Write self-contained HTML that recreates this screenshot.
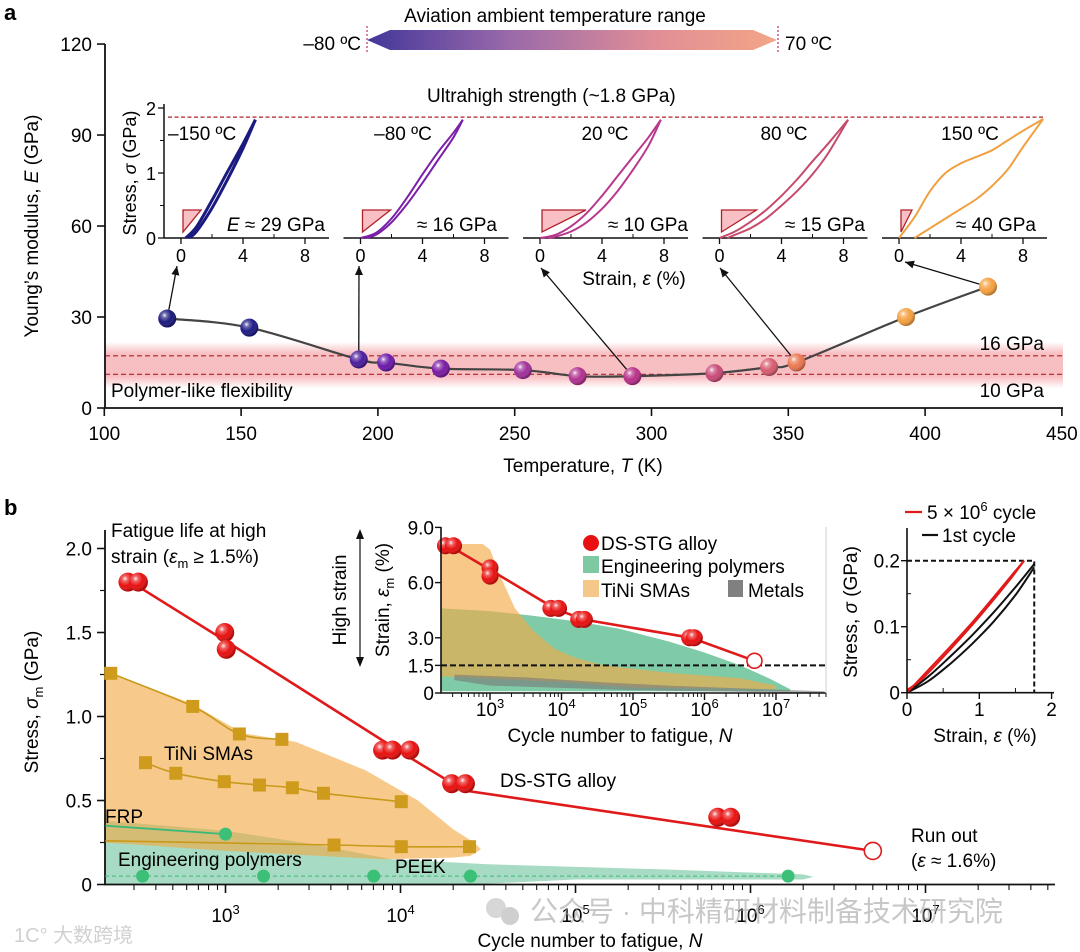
<!DOCTYPE html>
<html><head><meta charset="utf-8"><style>
html,body{margin:0;padding:0;background:#fff}
svg{display:block;font-family:"Liberation Sans","Noto Sans CJK SC",sans-serif}
</style></head><body>
<svg id="fig" width="1080" height="952" viewBox="0 0 1080 952" xmlns="http://www.w3.org/2000/svg">
<defs>
<radialGradient id="shine" cx="0.35" cy="0.32" r="0.65">
<stop offset="0" stop-color="#fff" stop-opacity="0.95"/>
<stop offset="0.22" stop-color="#fff" stop-opacity="0.35"/>
<stop offset="0.6" stop-color="#fff" stop-opacity="0"/>
<stop offset="1" stop-color="#000" stop-opacity="0.25"/>
</radialGradient>
<linearGradient id="tempbar" x1="0" x2="1" y1="0" y2="0">
<stop offset="0" stop-color="#43379a"/>
<stop offset="0.35" stop-color="#9a6aaa"/>
<stop offset="0.7" stop-color="#e08e96"/>
<stop offset="1" stop-color="#f3a586"/>
</linearGradient>
<linearGradient id="band" x1="0" x2="0" y1="0" y2="1">
<stop offset="0" stop-color="#f7b8bc" stop-opacity="0"/>
<stop offset="0.25" stop-color="#f7b8bc" stop-opacity="0.9"/>
<stop offset="0.75" stop-color="#f7b8bc" stop-opacity="0.9"/>
<stop offset="1" stop-color="#f7b8bc" stop-opacity="0"/>
</linearGradient>
</defs>

<text x="4" y="20" font-size="22" font-weight="bold">a</text>
<text x="4" y="515" font-size="22" font-weight="bold">b</text>

<text x="555" y="22" font-size="19" text-anchor="middle">Aviation ambient temperature range</text>
<polygon points="367,40 390,30 753,30 777,40 753,50 390,50" fill="url(#tempbar)"/>
<line x1="367" y1="26" x2="367" y2="54" stroke="#c0306a" stroke-width="1.2" stroke-dasharray="2,2"/>
<line x1="778" y1="26" x2="778" y2="54" stroke="#c0306a" stroke-width="1.2" stroke-dasharray="2,2"/>
<text x="361" y="50" font-size="19" text-anchor="end">–80 ºC</text>
<text x="785" y="50" font-size="19">70 ºC</text>

<g id="panelA"></g>
<g id="panelB"></g>

<g opacity="0.55">
<circle cx="496" cy="908" r="10" fill="#b8b8b8"/><circle cx="510" cy="916" r="9" fill="#a8a8a8"/>
<text x="530" y="921" font-size="28" fill="#9a9a9a">公众号 · 中科精研材料制备技术研究院</text>
<text x="14" y="942" font-size="20" fill="#aaa">1C° 大数跨境</text>
</g>
</svg>
<script>
const NS='http://www.w3.org/2000/svg';
/* ---------- panel a data ---------- */
const tempK=[123,153,193,203,223,253,273,293,323,343,353,393,423];
const modulusE=[29.5,26.5,16,15,13,12.5,10.5,10.5,11.5,13.5,15,30,40];
const orbColors=['#1c1a7c','#1e1b86','#4a1c9c','#6a1aa8','#7a1aa2','#a0309c','#b03290','#b83088','#c84a78','#d65c70','#ea7850','#f5a040','#f5a040'];
const aXTicks=[100,150,200,250,300,350,400,450];
const aYTicks=[0,30,60,90,120];
const bandHigh=17.2, bandLow=11.1;
const insetLabels=['–150 ºC','–80 ºC','20 ºC','80 ºC','150 ºC'];
const insetModText=['≈ 29 GPa','≈ 16 GPa','≈ 10 GPa','≈ 15 GPa','≈ 40 GPa'];
const insetColors=['#1b1a80','#7b1fa8','#b8388e','#c84a6a','#f0a040'];
const insetLoadStrain=[
 [0.3,1,2,3,4,4.8],
 [0,1,2,3,4,5,6,6.6],
 [0,1,2,3,4,5,6,7,7.8],
 [0,1,2,3,4,5,6,7,8.3],
 [0,1,2,3,4,5,6,7,8,9.3]];
const insetLoadStress=[
 [0,0.17,0.58,1.02,1.45,1.82],
 [0,0.08,0.3,0.62,0.98,1.32,1.62,1.82],
 [0,0.05,0.18,0.38,0.65,0.95,1.25,1.55,1.82],
 [0,0.1,0.25,0.43,0.65,0.9,1.18,1.45,1.82],
 [0,0.32,0.72,1.0,1.15,1.25,1.35,1.5,1.65,1.83]];
const insetUnloadStrain=[
 [4.8,4,3,2,1,0.5],
 [6.6,6,5,4,3,2,1,0.3],
 [7.8,7,6,5,4,3,2,1,0.5],
 [8.3,7,6,5,4,3,2,1,0.5],
 [9.3,8,7,6,5,4,3,2,1]];
const insetUnloadStress=[
 [1.82,1.38,0.9,0.46,0.1,0],
 [1.82,1.55,1.2,0.85,0.52,0.24,0.05,0],
 [1.82,1.42,1.05,0.72,0.45,0.24,0.1,0.02,0],
 [1.82,1.3,0.98,0.72,0.5,0.3,0.15,0.05,0],
 [1.83,1.4,1.05,0.8,0.6,0.45,0.3,0.15,0]];
const triWidths=[18,28,44,35,11];
const insetXTicks=[0,4,8];
const insetYTicks=[0,1,2];
const ultraStrength=1.86;
const arrowFromIdx=[0,2,7,10,12];

/* ---------- panel b data ---------- */
const dsN=[277,318,990,1010,7900,9000,11300,19600,23500,6.5e5,7.7e5];
const dsS=[1.8,1.8,1.5,1.4,0.8,0.8,0.8,0.6,0.6,0.4,0.4];
const dsLineN=[300,1000,10000,23000,5e6];
const dsLineS=[1.79,1.45,0.79,0.56,0.2];
const runoutN=5e6, runoutS=0.2;
const tiniUpperN=[221,650,1200,2100];
const tiniUpperS=[1.257,1.06,0.896,0.864];
const tiniMidN=[349,520,984,1563,2410,3630,10100];
const tiniMidS=[0.725,0.662,0.612,0.592,0.576,0.543,0.493];
const tiniLowN=[206,4170,10100,24800];
const tiniLowS=[0.26,0.235,0.225,0.225];
const frpN=[206,1000];
const frpS=[0.35,0.30];
const peekN=[336,1650,7030,25100,1.64e6];
const peekS=[0.05,0.05,0.05,0.05,0.05];
const orangeLogN=[2.31,2.8,3.1,3.4,3.8,4.1,4.3,4.42,4.46,4.4,4.3,3.9,3.0,2.31];
const orangeS=[1.27,1.08,0.9,0.85,0.68,0.5,0.33,0.25,0.21,0.17,0.16,0.15,0.2,0.25];
const greenLogN=[2.31,3.0,3.5,3.95,4.5,5.5,6.3,6.36,6.3,5.0,4.4,2.31];
const greenS=[0.38,0.32,0.24,0.15,0.12,0.09,0.06,0.045,0.03,0.03,0,0];
const bYTicks=[0,0.5,1.0,1.5,2.0];
const bYTickLabels=['0','0.5','1.0','1.5','2.0'];
const bXDecades=[3,4,5,6,7];

const inDsN=[238,309,1000,1000,7100,9100,17400,20900,6.2e5,7.2e5];
const inDsE=[8.0,8.0,6.8,6.35,4.6,4.6,4.0,4.0,3.0,3.0];
const inLineN=[270,1000,8000,20000,6.5e5,5e6];
const inLineE=[8.0,6.7,4.6,4.0,3.0,1.75];
const inRunoutN=5e6, inRunoutE=1.75;
const inOrangeLogN=[2.31,2.9,3.0,3.15,3.35,3.6,3.9,4.2,4.6,5.5,6.5,7.0,7.0,5.0,4.0,2.31];
const inOrangeE=[8.1,8.1,7.8,6.3,4.6,3.4,2.4,1.9,1.5,1.1,0.8,0.4,0.2,0.3,0.6,0.9];
const inGreenLogN=[2.31,3.0,3.6,4.2,4.8,5.5,6.0,6.5,6.9,7.2,7.2,2.31];
const inGreenE=[4.6,4.45,4.2,3.9,3.5,2.8,2.2,1.5,0.8,0.2,0.1,0.1];
const inGrayLogN=[2.5,3.5,4.5,5.5,6.5,7.68,7.68,5.0,3.0,2.5];
const inGrayE=[1.0,0.85,0.6,0.4,0.25,0.1,0.0,0.15,0.4,0.7];
const inYTicks=[0,1.5,3.0,6.0,9.0];
const inYLabels=['0','1.5','3.0','6.0','9.0'];
const inThreshold=1.5;

const rRedLoadX=[0,0.3,0.6,0.9,1.2,1.45,1.62];
const rRedLoadY=[0,0.035,0.07,0.106,0.145,0.178,0.2];
const rRedUnX=[1.62,1.4,1.1,0.8,0.5,0.2,0];
const rRedUnY=[0.2,0.168,0.128,0.09,0.054,0.02,0.004];
const rBlkLoadX=[0,0.3,0.6,0.9,1.2,1.5,1.76];
const rBlkLoadY=[0,0.025,0.055,0.087,0.122,0.16,0.195];
const rBlkUnX=[1.76,1.5,1.2,0.9,0.6,0.3,0];
const rBlkUnY=[0.19,0.148,0.108,0.074,0.044,0.018,0];
const rPeakStrain=1.76, rPeakStress=0.2;
const rXTicks=[0,1,2];
const rYTicks=[0,0.1,0.2];
const rYLabels=['0','0.1','0.2'];

/* ---------- helpers ---------- */
function mk(tag,parent){const e=document.createElementNS(NS,tag);parent.appendChild(e);return e;}
function set(e,o){for(const k in o)e.setAttribute(k,o[k]);return e;}
function smooth(pts){
  if(pts.length<3){return 'M'+pts.map(p=>p[0].toFixed(1)+','+p[1].toFixed(1)).join('L');}
  let d='M'+pts[0][0].toFixed(1)+','+pts[0][1].toFixed(1);
  for(let i=0;i<pts.length-1;i++){
    const p0=pts[Math.max(0,i-1)],p1=pts[i],p2=pts[i+1],p3=pts[Math.min(pts.length-1,i+2)];
    const c1=[p1[0]+(p2[0]-p0[0])/6,p1[1]+(p2[1]-p0[1])/6];
    const c2=[p2[0]-(p3[0]-p1[0])/6,p2[1]-(p3[1]-p1[1])/6];
    d+='C'+c1[0].toFixed(1)+','+c1[1].toFixed(1)+' '+c2[0].toFixed(1)+','+c2[1].toFixed(1)+' '+p2[0].toFixed(1)+','+p2[1].toFixed(1);
  }
  return d;
}
function txt(parent,x,y,s,size,anchor){const t=mk('text',parent);set(t,{x:x,y:y,'font-size':size,'text-anchor':anchor||'start'});t.textContent=s;return t;}
function span(t,s,o){const e=mk('tspan',t);if(o)set(e,o);e.textContent=s;return e;}
function sphere(parent,cx,cy,r,col){
  const g=mk('g',parent);
  const c=mk('circle',g);set(c,{cx:cx,cy:cy,r:r,fill:col});
  const h=mk('circle',g);set(h,{cx:cx,cy:cy,r:r,fill:'url(#shine)'});
  return g;
}
function arrow(parent,x1,y1,x2,y2){
  const g=mk('g',parent);
  const l=mk('line',g);set(l,{x1:x1,y1:y1,x2:x2,y2:y2,stroke:'#111','stroke-width':1.3});
  const a=Math.atan2(y2-y1,x2-x1),L=9,W=4;
  const bx=x2-L*Math.cos(a),by=y2-L*Math.sin(a);
  const p=mk('polygon',g);set(p,{points:`${x2},${y2} ${bx+W*Math.sin(a)},${by-W*Math.cos(a)} ${bx-W*Math.sin(a)},${by+W*Math.cos(a)}`,fill:'#111'});
  return g;
}
function sup(t,base,exp){t.textContent='';span(t,base);span(t,exp,{dy:-8,'font-size':13});}

/* ---------- panel a ---------- */
const A=document.getElementById('panelA');
const ax=t=>104.3+(t-100)*2.736;
const ay=e=>408-e*3.033;

const band=mk('rect',A);set(band,{x:105,y:ay(bandHigh)-14,width:958,height:(ay(bandLow)-ay(bandHigh))+28,fill:'url(#band)'});


[bandHigh,bandLow].forEach(v=>{
  const l=mk('line',A);set(l,{x1:105,x2:1063,y1:ay(v),y2:ay(v),stroke:'#b0202a','stroke-width':1.2,'stroke-dasharray':'5,3'});
  
  
});
let t;
t=txt(A,111,397,'Polymer-like flexibility',19);


t=txt(A,1044,350,'16 GPa',19,'end');


t=txt(A,1044,397,'10 GPa',19,'end');



const axA=mk('path',A);set(axA,{d:`M105,44V408H1063`,fill:'none',stroke:'#111','stroke-width':1.8});


aXTicks.forEach(v=>{
  const l=mk('line',A);set(l,{x1:ax(v),x2:ax(v),y1:408,y2:416,stroke:'#111','stroke-width':1.6});
  
  
  const tt=txt(A,ax(v),440,String(v),19,'middle');
  
  
});
aYTicks.forEach(v=>{
  const l=mk('line',A);set(l,{x1:97,x2:105,y1:ay(v),y2:ay(v),stroke:'#111','stroke-width':1.6});
  
  
  const tt=txt(A,92,ay(v)+7,String(v),19,'end');
  
  
});
t=txt(A,583,472,'',19,'middle');
span(t,'Temperature, ');span(t,'T',{'font-style':'italic'});span(t,' (K)');


t=txt(A,0,0,'',19,'middle');
span(t,'Young’s modulus, ');span(t,'E',{'font-style':'italic'});span(t,' (GPa)');
set(t,{transform:'translate(38,226) rotate(-90)'});



const curve=mk('path',A);set(curve,{d:smooth(tempK.map((k,i)=>[ax(k),ay(modulusE[i])])),fill:'none',stroke:'#444','stroke-width':2.2});



const ix=(i,s)=>181+179.5*i+s*15.5;
const iy=s=>238-s*65;
const ul=mk('line',A);set(ul,{x1:168,x2:1044,y1:iy(ultraStrength),y2:iy(ultraStrength),stroke:'#b0202a','stroke-width':1.3,'stroke-dasharray':'4,2.5'});


t=txt(A,427,102,'Ultrahigh strength (~1.8 GPa)',19);



const labelX=[168,403,605,784,970];
const modX=[325,497,688,865,1036];
for(let i=0;i<5;i++){
  const g=mk('g',A);
  
  
  const xa=mk('line',g);set(xa,{x1:ix(i,0)-17,x2:ix(i,0)+148,y1:238,y2:238,stroke:'#111','stroke-width':1.5});
  
  
  insetXTicks.forEach(v=>{
    const l=mk('line',g);set(l,{x1:ix(i,v),x2:ix(i,v),y1:238,y2:244,stroke:'#111','stroke-width':1.3});
    
    
    const tt=txt(g,ix(i,v),262,String(v),18,'middle');
    
    
  });
  [2,6].forEach(v=>{const l=mk('line',g);set(l,{x1:ix(i,v),x2:ix(i,v),y1:238,y2:234,stroke:'#111','stroke-width':1});});
  const tri=mk('polygon',g);
  const tl=ix(i,0)+2;
  set(tri,{points:`${tl},210 ${tl+triWidths[i]},210 ${tl},232`,fill:'#f8c0c4',stroke:'#b0202a','stroke-width':1.3});
  
  
  const lp=mk('path',g);set(lp,{d:smooth(insetLoadStrain[i].map((s,j)=>[ix(i,s),iy(insetLoadStress[i][j])])),fill:'none',stroke:insetColors[i],'stroke-width':i===0?3:2});
  
  
  const up=mk('path',g);set(up,{d:smooth(insetUnloadStrain[i].map((s,j)=>[ix(i,s),iy(insetUnloadStress[i][j])])),fill:'none',stroke:insetColors[i],'stroke-width':i===0?3:2});
  
  
  const tl2=txt(g,labelX[i],140,insetLabels[i],19,i===0?'start':'middle');
  
  
  const mt=txt(g,modX[i],231,'',19,'end');
  if(i===0){span(mt,'E',{'font-style':'italic'});span(mt,' '+insetModText[i]);}else{mt.textContent=insetModText[i];}
  
  
}
const iya=mk('line',A);set(iya,{x1:164,x2:164,y1:104,y2:238,stroke:'#111','stroke-width':1.5});


insetYTicks.forEach(v=>{
  const l=mk('line',A);set(l,{x1:158,x2:164,y1:iy(v),y2:iy(v),stroke:'#111','stroke-width':1.3});
  
  
  const tt=txt(A,156,iy(v)+7,String(v),18,'end');
  
  
});
[0.5,1.5].forEach(v=>{const l=mk('line',A);set(l,{x1:160,x2:164,y1:iy(v),y2:iy(v),stroke:'#111','stroke-width':1});});
t=txt(A,0,0,'',18,'middle');
span(t,'Stress, ');span(t,'σ',{'font-style':'italic'});span(t,' (GPa)');
set(t,{transform:'translate(136,173) rotate(-90)'});


t=txt(A,634,285,'',19,'middle');
span(t,'Strain, ');span(t,'ε',{'font-style':'italic'});span(t,' (%)');



const arrowTips=[[177,266],[359,266],[541,268],[720,268],[905,262]];
arrowFromIdx.forEach((idx,i)=>{
  const px=ax(tempK[idx]),py=ay(modulusE[idx]);
  const dx=arrowTips[i][0]-px,dy=arrowTips[i][1]-py,d=Math.hypot(dx,dy);
  const a=arrow(A,px+dx/d*9,py+dy/d*9,arrowTips[i][0],arrowTips[i][1]);
  
  
});
tempK.forEach((k,i)=>{
  const s=sphere(A,ax(k),ay(modulusE[i]),9,orbColors[i]);
  
  
});

/* ---------- panel b ---------- */
const B=document.getElementById('panelB');
const LMIN=2.31,LMAX=7.72;
const bxl=l=>225.5+(l-3)*175;
const bx=n=>bxl(Math.log10(n));
const by=s=>884.5-s*168;

function poly(parent,xs,ys,fx,fy,fill){
  const p=mk('polygon',parent);
  set(p,{points:xs.map((x,i)=>fx(x).toFixed(1)+','+fy(ys[i]).toFixed(1)).join(' '),fill:fill});
  return p;
}
let p=poly(B,greenLogN,greenS,bxl,by,'rgba(95,190,145,0.55)');


p=poly(B,orangeLogN,orangeS,bxl,by,'rgba(242,170,70,0.62)');



const axB=mk('path',B);set(axB,{d:`M105,530V884.5H1055`,fill:'none',stroke:'#111','stroke-width':1.8});


bYTicks.forEach((v,i)=>{
  const l=mk('line',B);set(l,{x1:97,x2:105,y1:by(v),y2:by(v),stroke:'#111','stroke-width':1.6});
  
  
  const tt=txt(B,92,by(v)+7,bYTickLabels[i],19,'end');
  
  
  if(v<2){const m=mk('line',B);set(m,{x1:100,x2:105,y1:by(v+0.25),y2:by(v+0.25),stroke:'#111','stroke-width':1.2});}
});
for(let d=2;d<=7;d++){for(let k=1;k<=9;k++){
  const l=Math.log10(k*Math.pow(10,d));
  if(l<LMIN||l>LMAX)continue;
  const m=mk('line',B);set(m,{x1:bxl(l),x2:bxl(l),y1:884.5,y2:k===1?893:890,stroke:'#111','stroke-width':k===1?1.6:1.1});
}}
bXDecades.forEach(d=>{
  const tt=txt(B,bxl(d),922,'',19,'middle');sup(tt,'10',String(d));
  
  
});
t=txt(B,590,947,'',19,'middle');
span(t,'Cycle number to fatigue, ');span(t,'N',{'font-style':'italic'});


t=txt(B,0,0,'',19,'middle');
span(t,'Stress, ');span(t,'σ',{'font-style':'italic'});span(t,'m',{'font-size':13,dy:5});span(t,' (GPa)',{dy:-5});
set(t,{transform:'translate(38,702) rotate(-90)'});



[[tiniUpperN,tiniUpperS,'tini-upper'],[tiniMidN,tiniMidS,'tini-middle'],[tiniLowN,tiniLowS,'tini-lower']].forEach((sr,si)=>{
  const g=mk('g',B);
  
  
  const pth=mk('path',g);set(pth,{d:smooth(sr[0].map((n,i)=>[bx(n),by(sr[1][i])])),fill:'none',stroke:'#c99a1a','stroke-width':1.6});
  sr[0].forEach((n,i)=>{
    if(si===2&&i===0)return;
    const r=mk('rect',g);set(r,{x:bx(n)-6.5,y:by(sr[1][i])-6.5,width:13,height:13,fill:'#cf9b1c'});
    
    
  });
});
const frp=mk('line',B);set(frp,{x1:bx(frpN[0]),y1:by(frpS[0]),x2:bx(frpN[1]),y2:by(frpS[1]),stroke:'#3cb878','stroke-width':1.8});


const frpPt=mk('circle',B);set(frpPt,{cx:bx(frpN[1]),cy:by(frpS[1]),r:6.5,fill:'#3cc078'});


const peekLine=mk('line',B);set(peekLine,{x1:105,y1:by(peekS[0]),x2:bx(peekN[4]),y2:by(peekS[0]),stroke:'#3cb878','stroke-width':1,'stroke-dasharray':'4,3'});


peekN.forEach((n,i)=>{
  const c=mk('circle',B);set(c,{cx:bx(n),cy:by(peekS[i]),r:6.5,fill:'#3cc078'});
  
  
});
const dsl=mk('polyline',B);set(dsl,{points:dsLineN.map((n,i)=>bx(n).toFixed(1)+','+by(dsLineS[i]).toFixed(1)).join(' '),fill:'none',stroke:'#e01a1a','stroke-width':2.6});


dsN.forEach((n,i)=>{
  const s=sphere(B,bx(n),by(dsS[i]),9.5,'#e81010');
  
  
});
const ro=mk('circle',B);set(ro,{cx:bx(runoutN),cy:by(runoutS),r:8.5,fill:'#fff',stroke:'#e01a1a','stroke-width':1.6});



t=txt(B,111,537,'Fatigue life at high',19);


t=txt(B,111,563,'',19);
span(t,'strain (');span(t,'ε',{'font-style':'italic'});span(t,'m',{'font-size':13,dy:5});span(t,' ≥ 1.5%)',{dy:-5});


[['TiNi SMAs',164,760,'tini-label'],['FRP',105,823,'frp-label'],['Engineering polymers',118,866,'polymers-label'],['PEEK',395,873,'peek-label'],['DS-STG alloy',500,787,'ds-stg-label'],['Run out',911,842,'run-out-label']].forEach(a=>{
  const tt=txt(B,a[1],a[2],a[0],19);
  
  
});
t=txt(B,911,867,'',19);
span(t,'(');span(t,'ε',{'font-style':'italic'});span(t,' ≈ 1.6%)');



/* inset b */
const I=mk('g',B);


const ixl=l=>490+(l-3)*71.5;
const ixn=n=>ixl(Math.log10(n));
const iyb=e=>693-e*18.4;
const bg=mk('rect',I);set(bg,{x:441,y:520,width:385,height:173,fill:'#fff'});
p=poly(I,inGreenLogN,inGreenE,ixl,iyb,'rgba(95,190,145,0.8)');


p=poly(I,inOrangeLogN,inOrangeE,ixl,iyb,'rgba(242,170,70,0.65)');


p=poly(I,inGrayLogN,inGrayE,ixl,iyb,'rgba(120,120,120,0.6)');


const thr=mk('line',I);set(thr,{x1:441,x2:826,y1:iyb(inThreshold),y2:iyb(inThreshold),stroke:'#111','stroke-width':2,'stroke-dasharray':'6,3'});


const il=mk('polyline',I);set(il,{points:inLineN.map((n,i)=>ixn(n).toFixed(1)+','+iyb(inLineE[i]).toFixed(1)).join(' '),fill:'none',stroke:'#e01a1a','stroke-width':2.6});


inDsN.forEach((n,i)=>{
  const s=sphere(I,ixn(n),iyb(inDsE[i]),8.5,'#e81010');
  
  
});
const iro=mk('circle',I);set(iro,{cx:ixn(inRunoutN),cy:iyb(inRunoutE),r:7.5,fill:'#fff',stroke:'#e01a1a','stroke-width':1.6});


const iax=mk('path',I);set(iax,{d:'M441,527V693H826',fill:'none',stroke:'#111','stroke-width':1.6});


const rb=mk('line',I);set(rb,{x1:826,x2:826,y1:527,y2:693,stroke:'#ccc','stroke-width':1});
inYTicks.forEach((v,i)=>{
  const l=mk('line',I);set(l,{x1:435,x2:441,y1:iyb(v),y2:iyb(v),stroke:'#111','stroke-width':1.4});
  const tt=txt(I,434,iyb(v)+7,inYLabels[i],19,'end');
  
  
});
for(let d=2;d<=7;d++){for(let k=1;k<=9;k++){
  const l=Math.log10(k*Math.pow(10,d));
  if(l<LMIN||l>LMAX)continue;
  const m=mk('line',I);set(m,{x1:ixl(l),x2:ixl(l),y1:693,y2:k===1?700:697,stroke:'#111','stroke-width':k===1?1.4:1});
}}
bXDecades.forEach(d=>{
  const tt=txt(I,ixl(d),716,'',19,'middle');sup(tt,'10',String(d));
  
  
});
t=txt(I,620,742,'',19,'middle');
span(t,'Cycle number to fatigue, ');span(t,'N',{'font-style':'italic'});


t=txt(I,0,0,'',19,'middle');
span(t,'Strain, ');span(t,'ε',{'font-style':'italic'});span(t,'m',{'font-size':13,dy:5});span(t,' (%)',{dy:-5});
set(t,{transform:'translate(389,600) rotate(-90)'});


t=txt(I,0,0,'High strain',19,'middle');
set(t,{transform:'translate(346,600) rotate(-90)'});


const da=mk('g',I);


const dl=mk('line',da);set(dl,{x1:360,x2:360,y1:534,y2:662,stroke:'#111','stroke-width':1.2});
const d1=mk('polygon',da);set(d1,{points:'360,529 356,539 364,539',fill:'#111'});
const d2=mk('polygon',da);set(d2,{points:'360,667 356,657 364,657',fill:'#111'});
const lg=mk('g',I);


const lc=mk('circle',lg);set(lc,{cx:591,cy:543,r:8,fill:'#e81010'});


t=txt(lg,601,550,'DS-STG alloy',19);


let r=mk('rect',lg);set(r,{x:583,y:556,width:16,height:17,fill:'#7ec8a2'});


t=txt(lg,601,573,'Engineering polymers',19);


r=mk('rect',lg);set(r,{x:583,y:580,width:16,height:17,fill:'#f5c88a'});


t=txt(lg,601,597,'TiNi SMAs',19);


r=mk('rect',lg);set(r,{x:728,y:580,width:15,height:17,fill:'#808080'});


t=txt(lg,748,597,'Metals',19);



/* right inset */
const R=mk('g',B);


const rx=e=>907+e*72.3;
const ry=s=>692.7-s*660;
const rdash=mk('path',R);set(rdash,{d:`M${rx(0)},${ry(rPeakStress)}H${rx(rPeakStrain)}V${ry(0)}`,fill:'none',stroke:'#111','stroke-width':2,'stroke-dasharray':'5,3'});


[[rBlkLoadX,rBlkLoadY,'#111','first-cycle-loading'],[rBlkUnX,rBlkUnY,'#111','first-cycle-unloading'],[rRedLoadX,rRedLoadY,'#e01a1a','5m-cycle-loading'],[rRedUnX,rRedUnY,'#e01a1a','5m-cycle-unloading']].forEach(c=>{
  const pth=mk('path',R);set(pth,{d:smooth(c[0].map((x,i)=>[rx(x),ry(c[1][i])])),fill:'none',stroke:c[2],'stroke-width':2});
  
  
});
const rax=mk('path',R);set(rax,{d:`M907,528V692.7H1054`,fill:'none',stroke:'#111','stroke-width':1.6});


rXTicks.forEach(v=>{
  const l=mk('line',R);set(l,{x1:rx(v),x2:rx(v),y1:692.7,y2:699,stroke:'#111','stroke-width':1.4});
  const tt=txt(R,rx(v),716,String(v),19,'middle');
  
  
});
[0.5,1.5].forEach(v=>{const l=mk('line',R);set(l,{x1:rx(v),x2:rx(v),y1:692.7,y2:688,stroke:'#111','stroke-width':1});});
rYTicks.forEach((v,i)=>{
  const l=mk('line',R);set(l,{x1:901,x2:907,y1:ry(v),y2:ry(v),stroke:'#111','stroke-width':1.4});
  const tt=txt(R,900,ry(v)+7,rYLabels[i],19,'end');
  
  
});
[0.05,0.15].forEach(v=>{const l=mk('line',R);set(l,{x1:907,x2:911,y1:ry(v),y2:ry(v),stroke:'#111','stroke-width':1});});
t=txt(R,985,742,'',19,'middle');
span(t,'Strain, ');span(t,'ε',{'font-style':'italic'});span(t,' (%)');


t=txt(R,0,0,'',19,'middle');
span(t,'Stress, ');span(t,'σ',{'font-style':'italic'});span(t,' (GPa)');
set(t,{transform:'translate(857,612) rotate(-90)'});


const rl1=mk('line',R);set(rl1,{x1:905,x2:922,y1:512,y2:512,stroke:'#e01a1a','stroke-width':2.2});


t=txt(R,927,519,'',19);
span(t,'5 × 10');span(t,'6',{'font-size':13,dy:-8});span(t,' cycle',{dy:8});


const rl2=mk('line',R);set(rl2,{x1:922,x2:938,y1:535,y2:535,stroke:'#111','stroke-width':2.2});


t=txt(R,942,542,'1st cycle',19);


</script>
</body></html>
